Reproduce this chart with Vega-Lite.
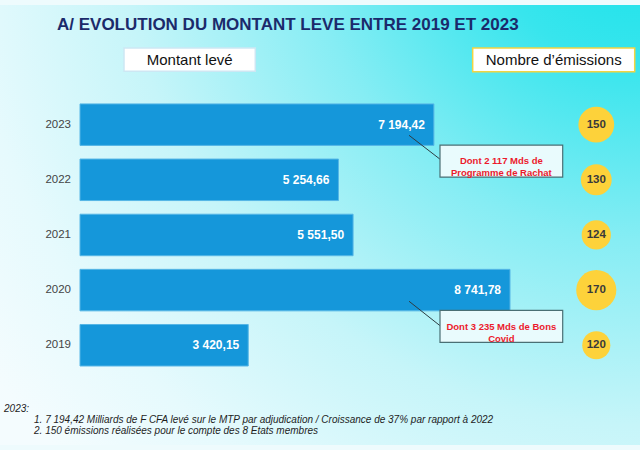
{
  "$schema": "https://vega.github.io/schema/vega-lite/v6.json",
  "width": 640,
  "height": 450,
  "autosize": {"type": "none"},
  "padding": 0,
  "background": "#eefbfd",
  "config": {"view": {"stroke": null}, "font": "Liberation Sans"},
  "datasets": {
    "montants": [
      {"annee": 2019, "montant": 3420.15, "libelle": "3 420,15", "emissions": 120},
      {"annee": 2020, "montant": 8741.78, "libelle": "8 741,78", "emissions": 170},
      {"annee": 2021, "montant": 5551.50, "libelle": "5 551,50", "emissions": 124},
      {"annee": 2022, "montant": 5254.66, "libelle": "5 254,66", "emissions": 130},
      {"annee": 2023, "montant": 7194.42, "libelle": "7 194,42", "emissions": 150}
    ],
    "titre": [
      {"texte": "A/ EVOLUTION DU MONTANT LEVE ENTRE 2019 ET 2023", "x": -467.6, "y": 2024.816}
    ],
    "entetes": [
      {"texte": "Montant levé", "x": 894.5, "x2": 3563.9, "y": 2024.390, "y2": 2023.970, "xc": 2229, "yc": 2024.177},
      {"texte": "Nombre d’émissions", "x": 7983.6, "x2": 11277.1, "y": 2024.390, "y2": 2023.960, "xc": 9630, "yc": 2024.177}
    ],
    "notes": [
      {"texte": "Dont 2 117 Mds de\nProgramme de Rachat", "x": 7318.8, "x2": 9813.3, "y": 2022.629, "y2": 2022.050, "xc": 8566, "yc": 2022.337, "lx": 6688.6, "ly": 2022.807, "lx2": 7318.8, "ly2": 2022.374},
      {"texte": "Dont 3 235 Mds de Bons\nCovid", "x": 7318.8, "x2": 9813.3, "y": 2019.633, "y2": 2019.053, "xc": 8566, "yc": 2019.328, "lx": 6688.6, "ly": 2019.798, "lx2": 7318.8, "ly2": 2019.355}
    ],
    "pied": [
      {"texte": "2023:", "x": -1545, "y": 2017.847},
      {"texte": "1.  7 194,42 Milliards de F CFA levé sur le MTP par adjudication / Croissance de 37% par rapport à 2022", "x": -935, "y": 2017.644},
      {"texte": "2.  150 émissions réalisées pour le compte des 8 Etats membres", "x": -935, "y": 2017.440}
    ]
  },
  "layer": [
    {
      "data": {"values": [{}]},
      "mark": {
        "type": "rect",
        "color": {
          "gradient": "radial",
          "x1": 1, "y1": 0, "r1": 0,
          "x2": 1, "y2": 0, "r2": 1.25,
          "stops": [
            {"offset": 0, "color": "#0ee1e9"},
            {"offset": 0.2, "color": "#38e5ed"},
            {"offset": 0.42, "color": "#86edf4"},
            {"offset": 0.65, "color": "#c6f5f9"},
            {"offset": 0.85, "color": "#e6fafd"},
            {"offset": 1, "color": "#f4fcfe"}
          ]
        }
      },
      "encoding": {
        "x": {"datum": -1626.4, "type": "quantitative", "scale": {"domain": [-1626.4, 11384.8], "nice": false, "zero": false}, "axis": null},
        "x2": {"datum": 11384.8},
        "y": {"datum": 2017.191, "type": "quantitative", "scale": {"domain": [2017.191, 2025.170], "nice": false, "zero": false}, "axis": null},
        "y2": {"datum": 2025.170}
      }
    },
    {
      "data": {"name": "titre"},
      "mark": {"type": "text", "align": "left", "baseline": "middle", "fontSize": 17, "fontWeight": "bold", "color": "#1b2a6b"},
      "encoding": {
        "x": {"field": "x", "type": "quantitative"},
        "y": {"field": "y", "type": "quantitative"},
        "text": {"field": "texte"}
      }
    },
    {
      "data": {"name": "entetes"},
      "layer": [
        {
          "mark": {"type": "rect", "fill": "#ffffff", "strokeWidth": 1.5},
          "encoding": {
            "x": {"field": "x", "type": "quantitative"},
            "x2": {"field": "x2"},
            "y": {"field": "y", "type": "quantitative"},
            "y2": {"field": "y2"},
            "stroke": {"field": "texte", "type": "nominal", "scale": {"domain": ["Montant levé", "Nombre d’émissions"], "range": ["#cde7f3", "#f1d443"]}, "legend": null}
          }
        },
        {
          "mark": {"type": "text", "align": "center", "baseline": "middle", "fontSize": 15, "color": "#111111"},
          "encoding": {
            "x": {"field": "xc", "type": "quantitative"},
            "y": {"field": "yc", "type": "quantitative"},
            "text": {"field": "texte"}
          }
        }
      ]
    },
    {
      "data": {"name": "montants"},
      "layer": [
        {
          "mark": {"type": "bar", "orient": "horizontal", "size": 41.5, "color": "#1597da", "stroke": "#56b6e6", "strokeWidth": 1},
          "encoding": {
            "x": {"field": "montant", "type": "quantitative"},
            "y": {"field": "annee", "type": "quantitative"}
          }
        },
        {
          "mark": {"type": "text", "align": "right", "baseline": "middle", "dx": -9, "fontSize": 12, "fontWeight": "bold", "color": "#ffffff"},
          "encoding": {
            "x": {"field": "montant", "type": "quantitative"},
            "y": {"field": "annee", "type": "quantitative"},
            "text": {"field": "libelle"}
          }
        },
        {
          "mark": {"type": "text", "align": "right", "baseline": "middle", "dx": -9, "fontSize": 11.5, "color": "#444444"},
          "encoding": {
            "x": {"datum": 0, "type": "quantitative"},
            "y": {"field": "annee", "type": "quantitative"},
            "text": {"field": "annee", "type": "nominal"}
          }
        },
        {
          "mark": {"type": "circle", "color": "#fdd23a", "opacity": 1},
          "encoding": {
            "x": {"datum": 10496, "type": "quantitative"},
            "y": {"field": "annee", "type": "quantitative"},
            "size": {"field": "emissions", "type": "quantitative", "scale": {"domain": [120, 170], "range": [789, 1612], "zero": false}, "legend": null}
          }
        },
        {
          "mark": {"type": "text", "align": "center", "baseline": "middle", "fontSize": 11.5, "fontWeight": "bold", "color": "#3a3a3a"},
          "encoding": {
            "x": {"datum": 10496, "type": "quantitative"},
            "y": {"field": "annee", "type": "quantitative"},
            "text": {"field": "emissions", "type": "nominal"}
          }
        }
      ]
    },
    {
      "data": {"name": "notes"},
      "layer": [
        {
          "mark": {"type": "rule", "color": "#2e3c42", "strokeWidth": 1},
          "encoding": {
            "x": {"field": "lx", "type": "quantitative"},
            "x2": {"field": "lx2"},
            "y": {"field": "ly", "type": "quantitative"},
            "y2": {"field": "ly2"}
          }
        },
        {
          "mark": {"type": "rect", "fill": "#e9fbfd", "stroke": "#4a6f74", "strokeWidth": 1.2},
          "encoding": {
            "x": {"field": "x", "type": "quantitative"},
            "x2": {"field": "x2"},
            "y": {"field": "y", "type": "quantitative"},
            "y2": {"field": "y2"}
          }
        },
        {
          "mark": {"type": "text", "align": "center", "baseline": "middle", "lineBreak": "\n", "lineHeight": 11.5, "fontSize": 9.5, "fontWeight": "bold", "color": "#ec1a2c"},
          "encoding": {
            "x": {"field": "xc", "type": "quantitative"},
            "y": {"field": "yc", "type": "quantitative"},
            "text": {"field": "texte"}
          }
        }
      ]
    },
    {
      "data": {"name": "pied"},
      "mark": {"type": "text", "align": "left", "baseline": "middle", "fontSize": 10, "fontStyle": "italic", "color": "#1e1e1e"},
      "encoding": {
        "x": {"field": "x", "type": "quantitative"},
        "y": {"field": "y", "type": "quantitative"},
        "text": {"field": "texte"}
      }
    }
  ]
}
